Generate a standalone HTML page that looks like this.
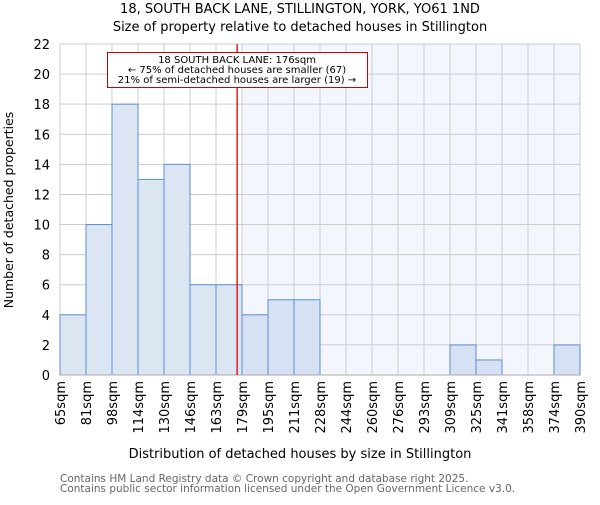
<!DOCTYPE html>
<html><head><meta charset="utf-8"><style>body{margin:0;background:#fff}svg{font-family:"DejaVu Sans","Liberation Sans",sans-serif}</style></head>
<body>
<svg id="c" width="600" height="500">
<text x="300" y="13" text-anchor="middle" font-size="13">18, SOUTH BACK LANE, STILLINGTON, YORK, YO61 1ND</text>
<text x="300" y="31" text-anchor="middle" font-size="13">Size of property relative to detached houses in Stillington</text>
<text x="300" y="458" text-anchor="middle" font-size="13">Distribution of detached houses by size in Stillington</text>
<text transform="translate(13,210) rotate(-90)" text-anchor="middle" font-size="12.5">Number of detached properties</text>
<text x="60" y="482" font-size="10.5" fill="#666">Contains HM Land Registry data © Crown copyright and database right 2025.</text>
<text x="60" y="492" font-size="10.5" fill="#666">Contains public sector information licensed under the Open Government Licence v3.0.</text>
<g id="plot"></g>
</svg>
<script>
const categories=["65sqm","81sqm","98sqm","114sqm","130sqm","146sqm","163sqm","179sqm","195sqm","211sqm","228sqm","244sqm","260sqm","276sqm","293sqm","309sqm","325sqm","341sqm","358sqm","374sqm","390sqm"];
const counts=[4,10,18,13,14,6,6,4,5,5,0,0,0,0,0,2,1,0,0,2];
const yTicks=[0,2,4,6,8,10,12,14,16,18,20,22];
const binStart=[65,81,98,114,130,146,163,179,195];
const markerValue=176;
const annotation=["18 SOUTH BACK LANE: 176sqm","← 75% of detached houses are smaller (67)","21% of semi-detached houses are larger (19) →"];
const X0=60,X1=580,Y0=375,Y1=44,NS="http://www.w3.org/2000/svg";
const bw=(X1-X0)/counts.length;
const xs=i=>X0+i*bw, ys=v=>Y0-(v/22)*(Y0-Y1);
const g=document.getElementById('plot');
function el(t,a,p){const e=document.createElementNS(NS,t);for(const k in a)e.setAttribute(k,a[k]);(p||g).appendChild(e);return e;}
function valX(v){let i=0;while(i<binStart.length-2&&binStart[i+1]<=v)i++;return xs(i)+bw*(v-binStart[i])/(binStart[i+1]-binStart[i]);}
const mx=valX(markerValue);
const shade=el('rect',{x:xs(7),y:Y1,width:X1-xs(7),height:Y0-Y1,fill:'#f3f6fd'});


yTicks.forEach(t=>{const l=el('line',{x1:X0,x2:X1,y1:ys(t),y2:ys(t),stroke:'#ccc'});


const tx=el('text',{x:X0-10,y:ys(t)+5,'text-anchor':'end','font-size':13});tx.textContent=t;

});
categories.forEach((c,i)=>{const l=el('line',{x1:xs(i),x2:xs(i),y1:Y1,y2:Y0,stroke:'#ccc'});


const tx=el('text',{transform:`translate(${xs(i)+5},${Y0+6}) rotate(-90)`,'text-anchor':'end','font-size':13});tx.textContent=c;

});
counts.forEach((v,i)=>{if(!v)return;const r=el('rect',{x:xs(i),y:ys(v),width:bw,height:Y0-ys(v),fill:i>=7?'#d6e1f3':'#dce6f3',stroke:'#5b8fd6','stroke-width':1});

});
const ax=el('line',{x1:X0,x2:X1,y1:Y0,y2:Y0,stroke:'#aaa'});


const ml=el('line',{x1:mx,x2:mx,y1:Y1,y2:Y0,stroke:'#d00','stroke-width':1.3});


const box=el('rect',{x:107.5,y:52.5,width:260,height:35,fill:'#fff',stroke:'#c00'});


annotation.forEach((s,i)=>{const t=el('text',{x:237,y:63+i*10,'text-anchor':'middle','font-size':10});t.textContent=s;

});
</script>
</body></html>
